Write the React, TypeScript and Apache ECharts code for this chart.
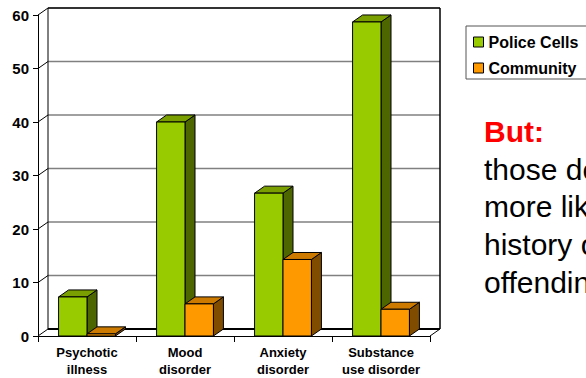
import { useEffect, useRef } from 'react';
import * as echarts from 'echarts';

// Share of people with each disorder, by place of assessment
const categories = ['Psychotic\nillness', 'Mood\ndisorder', 'Anxiety\ndisorder', 'Substance\nuse disorder'];
const policeCells = [7.3, 40, 26.7, 58.7];
const community = [0.4, 6, 14.3, 5];
const yTicks = [0, 10, 20, 30, 40, 50, 60];
const seriesNames = ['Police Cells', 'Community'];

const noteTitle = 'But:';
const noteLines = ['those detained', 'more likely to have a', 'history of', 'offending'];

// Depth of the 3D box (screen offset of the back plane)
const DX = 10;
const DY = -7;

const GREEN = { front: '#99CC00', top: '#7A9F00', side: '#4D6600' };
const ORANGE = { front: '#FF9900', top: '#CC7A00', side: '#7F4C00' };

const FONT = '"Liberation Sans", Arial, Helvetica, sans-serif';

function barRenderer(slot: number, palette: { front: string; top: string; side: string }) {
  return (_params: any, api: any) => {
    const idx = api.value(0);
    const val = api.value(1);
    const base = api.coord([idx, 0]);
    const top = api.coord([idx, val]);
    const band = api.size([1, 0])[0];
    const w = band * 0.29;
    const x0 = base[0] - w + slot * w;
    const x1 = x0 + w;
    const ty = top[1];
    const by = base[1];
    const stroke = { stroke: '#000', lineWidth: 1 };
    return {
      type: 'group',
      children: [
        {
          type: 'polygon',
          shape: { points: [[x1, ty], [x1 + DX, ty + DY], [x1 + DX, by + DY], [x1, by]] },
          style: { fill: palette.side, ...stroke },
        },
        {
          type: 'polygon',
          shape: { points: [[x0, ty], [x0 + DX, ty + DY], [x1 + DX, ty + DY], [x1, ty]] },
          style: { fill: palette.top, ...stroke },
        },
        {
          type: 'rect',
          shape: { x: x0, y: ty, width: w, height: by - ty },
          style: { fill: palette.front, ...stroke },
        },
      ],
    };
  };
}

// Back wall, left wall and floor of the box, one item per y tick
function wallRenderer(params: any, api: any) {
  const v = api.value(1);
  const cs = params.coordSys;
  const left = cs.x;
  const right = cs.x + cs.width;
  const y = api.coord([0, v])[1];
  const yMin = api.coord([0, yTicks[0]])[1];
  const yMax = api.coord([0, yTicks[yTicks.length - 1]])[1];
  const children: any[] = [];
  if (v === yTicks[0]) {
    children.push({
      type: 'polygon',
      shape: { points: [[left, y], [right, y], [right + DX, y + DY], [left + DX, y + DY]] },
      style: { fill: '#fff', stroke: 'none' },
    });
    children.push({
      type: 'line',
      shape: { x1: left + DX, y1: y + DY, x2: right + DX, y2: y + DY },
      style: { stroke: '#000', lineWidth: 2 },
    });
    children.push({
      type: 'line',
      shape: { x1: right, y1: y, x2: right + DX, y2: y + DY },
      style: { stroke: '#000', lineWidth: 1 },
    });
    children.push({
      type: 'line',
      shape: { x1: left, y1: y, x2: left + DX, y2: y + DY },
      style: { stroke: '#000', lineWidth: 1 },
    });
  } else if (v === yTicks[yTicks.length - 1]) {
    children.push({
      type: 'line',
      shape: { x1: left + DX, y1: y + DY, x2: right + DX, y2: y + DY },
      style: { stroke: '#333', lineWidth: 2 },
    });
    children.push({
      type: 'line',
      shape: { x1: left, y1: y, x2: left + DX, y2: y + DY },
      style: { stroke: '#000', lineWidth: 1 },
    });
    children.push({
      type: 'line',
      shape: { x1: left + DX, y1: yMax + DY, x2: left + DX, y2: yMin + DY },
      style: { stroke: '#000', lineWidth: 1 },
    });
    children.push({
      type: 'line',
      shape: { x1: right + DX, y1: yMax + DY, x2: right + DX, y2: yMin + DY },
      style: { stroke: '#000', lineWidth: 1.5 },
    });
  } else {
    children.push({
      type: 'line',
      shape: { x1: left + DX, y1: y + DY, x2: right + DX, y2: y + DY },
      style: { stroke: '#808080', lineWidth: 1.5 },
    });
    children.push({
      type: 'line',
      shape: { x1: left, y1: y, x2: left + DX, y2: y + DY },
      style: { stroke: '#000', lineWidth: 1 },
    });
  }
  return { type: 'group', children };
}

export default function App() {
  const ref = useRef<HTMLDivElement>(null);

  useEffect(() => {
    if (!ref.current) return;
    const chart = echarts.init(ref.current, undefined, { renderer: 'svg' });

    const noteX = 484;
    const firstBaseline = 141.7;
    const lineStep = 37.8;
    const centralShift = 10.4;

    const graphics: any[] = [
      {
        type: 'text',
        x: noteX,
        y: firstBaseline - centralShift,
        style: {
          text: noteTitle,
          fill: '#FF0000',
          font: `bold 30px ${FONT}`,
          verticalAlign: 'middle',
          align: 'left',
        },
      },
      ...noteLines.map((line, i) => ({
        type: 'text',
        x: noteX,
        y: firstBaseline + (i + 1) * lineStep - centralShift,
        style: {
          text: line,
          fill: '#000',
          font: `30px ${FONT}`,
          verticalAlign: 'middle',
          align: 'left',
        },
      })),
    ];

    chart.setOption({
      animation: false,
      backgroundColor: '#fff',
      textStyle: { fontFamily: FONT },
      grid: { left: 38, right: 156, top: 15, bottom: 42, containLabel: false },
      legend: {
        data: seriesNames,
        orient: 'vertical',
        left: 466,
        top: 26,
        padding: [8, 12, 3, 7],
        itemGap: 10,
        itemWidth: 10,
        itemHeight: 10,
        icon: 'rect',
        selectedMode: false,
        borderColor: '#555',
        borderWidth: 1,
        itemStyle: { borderColor: '#000', borderWidth: 1 },
        textStyle: { fontSize: 16, fontWeight: 'bold', color: '#000', lineHeight: 16, fontFamily: FONT },
      },
      xAxis: {
        type: 'category',
        data: categories,
        boundaryGap: true,
        axisLine: { show: true, lineStyle: { color: '#000', width: 1 } },
        axisTick: { show: true, length: 6, alignWithLabel: false, lineStyle: { color: '#000' } },
        axisLabel: {
          interval: 0,
          margin: 8,
          fontSize: 13,
          fontWeight: 'bold',
          lineHeight: 17,
          color: '#000',
          fontFamily: FONT,
        },
        splitLine: { show: false },
      },
      yAxis: {
        type: 'value',
        min: 0,
        max: 60,
        interval: 10,
        axisLine: { show: true, lineStyle: { color: '#000', width: 1 } },
        axisTick: { show: true, length: 5, lineStyle: { color: '#000' } },
        axisLabel: { margin: 9, fontSize: 15, fontWeight: 'bold', color: '#000', fontFamily: FONT },
        splitLine: { show: false },
      },
      series: [
        {
          name: 'walls',
          type: 'custom',
          z: 1,
          silent: true,
          renderItem: wallRenderer,
          encode: { x: 0, y: 1 },
          data: yTicks.map((v) => [0, v]),
        },
        {
          name: seriesNames[0],
          type: 'custom',
          z: 2,
          itemStyle: { color: GREEN.front },
          renderItem: barRenderer(0, GREEN),
          encode: { x: 0, y: 1 },
          data: policeCells.map((v, i) => [i, v]),
        },
        {
          name: seriesNames[1],
          type: 'custom',
          z: 3,
          itemStyle: { color: ORANGE.front },
          renderItem: barRenderer(1, ORANGE),
          encode: { x: 0, y: 1 },
          data: community.map((v, i) => [i, v]),
        },
      ],
      graphic: graphics,
    });

    return () => chart.dispose();
  }, []);

  return (
    <div
      ref={ref}
      style={{ position: 'absolute', left: 0, top: 0, width: 586, height: 378, overflow: 'hidden' }}
    />
  );
}
